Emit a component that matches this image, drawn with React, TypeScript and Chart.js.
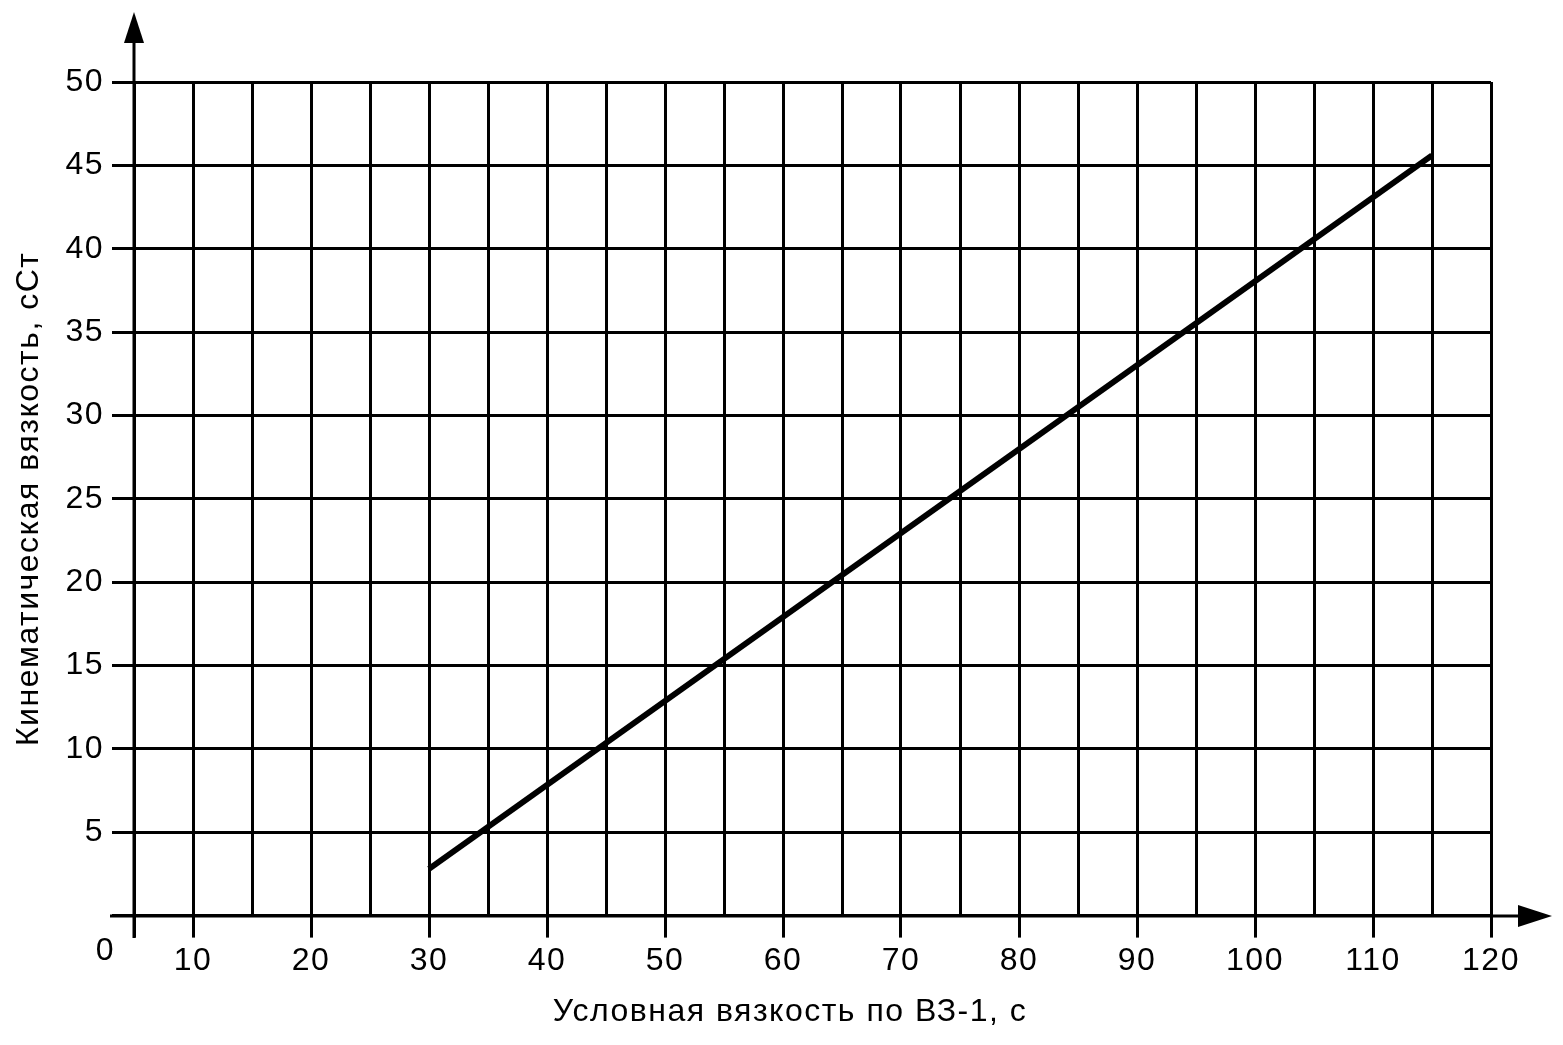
import React, { useEffect, useRef } from "react";
import { Chart, registerables } from "chart.js";

Chart.register(...registerables);

// ---- data ----
const xTitle = "Условная вязкость по ВЗ-1, с";
const yTitle = "Кинематическая вязкость, сСт";
const originLabel = "0";
const lineX = [30, 115];
const lineY = [2.8, 45.6];
const xMin = 5;
const xMax = 120;
const xStep = 5;
const xLabelEvery = 10;
const yMin = 0;
const yMax = 50;
const yStep = 5;

const FONT = "'Liberation Sans', Arial, Helvetica, sans-serif";
const SPACING = "1.5px";

const spacingPlugin = {
  id: "letterSpacing",
  beforeLayout(chart: any) {
    chart.ctx.letterSpacing = SPACING;
  },
  beforeDraw(chart: any) {
    chart.ctx.letterSpacing = SPACING;
  },
};

const arrowAxesPlugin = {
  id: "arrowAxes",
  afterDraw(chart: any) {
    const ctx = chart.ctx;
    const xs = chart.scales.x;
    const ys = chart.scales.y;
    const area = chart.chartArea;
    const ax = Math.round(xs.getPixelForValue(xMin));
    const ay = Math.round(ys.getPixelForValue(yMin));
    ctx.save();
    ctx.strokeStyle = "#000";
    ctx.fillStyle = "#000";
    ctx.lineWidth = 3;
    // vertical axis
    ctx.beginPath();
    ctx.moveTo(ax, ay + 22);
    ctx.lineTo(ax, area.top - 40);
    ctx.stroke();
    ctx.beginPath();
    ctx.moveTo(ax, area.top - 70);
    ctx.lineTo(ax - 10, area.top - 39);
    ctx.lineTo(ax + 10, area.top - 39);
    ctx.closePath();
    ctx.fill();
    // horizontal axis
    ctx.beginPath();
    ctx.moveTo(ax - 24, ay);
    ctx.lineTo(area.right + 31, ay);
    ctx.stroke();
    ctx.beginPath();
    ctx.moveTo(area.right + 61, ay);
    ctx.lineTo(area.right + 27, ay - 11);
    ctx.lineTo(area.right + 27, ay + 11);
    ctx.closePath();
    ctx.fill();
    // origin label
    ctx.font = `32px ${FONT}`;
    ctx.textAlign = "right";
    ctx.textBaseline = "middle";
    ctx.fillText(originLabel, ax - 19, ay + 35);
    ctx.restore();
  },
};

export default function App() {
  const ref = useRef<HTMLCanvasElement>(null);

  useEffect(() => {
    if (!ref.current) return;
    const chart = new Chart(ref.current, {
      type: "scatter",
      data: {
        datasets: [
          {
            data: lineX.map((x, i) => ({ x, y: lineY[i] })),
            showLine: true,
            borderColor: "#000",
            backgroundColor: "#000",
            borderWidth: 6,
            pointRadius: 0,
            fill: false,
          },
        ],
      },
      options: {
        animation: false,
        responsive: false,
        devicePixelRatio: 1,
        layout: { padding: { left: 17, top: 82, right: 0, bottom: 0 } },
        plugins: {
          legend: { display: false },
          tooltip: { enabled: false },
          title: {
            display: true,
            position: "bottom",
            text: xTitle,
            color: "#000",
            font: { family: FONT, size: 32, weight: "normal" },
            padding: { top: 0, bottom: 14 },
          },
        },
        scales: {
          x: {
            type: "linear",
            position: "bottom",
            min: xMin,
            max: xMax,
            afterFit: (s: any) => {
              s.height = 77;
            },
            border: { display: false },
            grid: {
              color: "#000",
              lineWidth: 3,
              tickLength: 22,
              tickWidth: 3,
              tickColor: (c: any) =>
                c.tick && (c.tick.value % xLabelEvery === 0 || c.tick.value === xMin)
                  ? "#000"
                  : "rgba(0,0,0,0)",
            },
            ticks: {
              stepSize: xStep,
              autoSkip: false,
              maxRotation: 0,
              padding: 4,
              color: "#000",
              font: { family: FONT, size: 32 },
              callback: (v: any) => (Number(v) % xLabelEvery === 0 ? String(v) : ""),
            },
          },
          y: {
            type: "linear",
            position: "left",
            min: yMin,
            max: yMax,
            afterFit: (s: any) => {
              s.width = 117;
            },
            border: { display: false },
            grid: {
              color: "#000",
              lineWidth: 3,
              tickLength: 22,
              tickWidth: 3,
              tickColor: "#000",
            },
            ticks: {
              stepSize: yStep,
              padding: 8,
              color: "#000",
              font: { family: FONT, size: 32 },
              callback: (v: any) => (Number(v) === yMin ? "" : String(v)),
            },
            title: {
              display: true,
              text: yTitle,
              color: "#000",
              font: { family: FONT, size: 32, lineHeight: 0.75 },
              padding: 0,
            },
          },
          y2: {
            type: "linear",
            position: "right",
            display: true,
            afterFit: (s: any) => {
              s.width = 72;
            },
            grid: { display: false, drawTicks: false },
            border: { display: false },
            ticks: { display: false },
          },
        },
      },
      plugins: [spacingPlugin, arrowAxesPlugin],
    } as any);
    return () => chart.destroy();
  }, []);

  return (
    <div style={{ position: "absolute", left: 0, top: 0, width: 1563, height: 1045, background: "#fff" }}>
      <canvas ref={ref} width={1563} height={1045} style={{ display: "block" }} />
    </div>
  );
}
